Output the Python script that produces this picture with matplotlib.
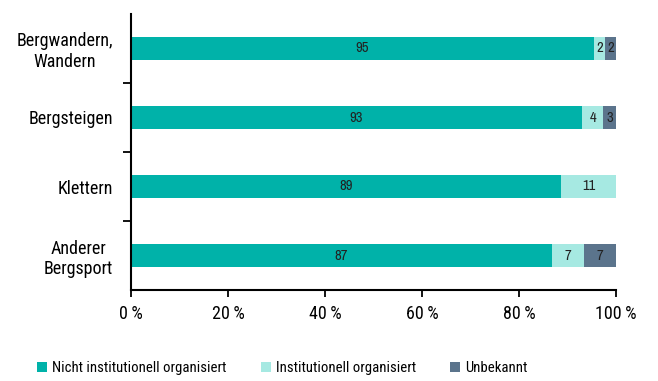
import numpy as np
import matplotlib.pyplot as plt
from matplotlib.ticker import FuncFormatter

plt.rcParams['font.family'] = ['Roboto Condensed', 'DejaVu Sans']

# Shares per activity (percent)
categories = ['Bergwandern,\nWandern', 'Bergsteigen', 'Klettern', 'Anderer\nBergsport']
nicht_inst = [95.4, 93.0, 88.7, 86.8]
inst = [2.4, 4.4, 11.3, 6.6]
unbekannt = [2.2, 2.6, 0.0, 6.6]

series = [
    ('Nicht institutionell organisiert', nicht_inst, '#00b2a9'),
    ('Institutionell organisiert', inst, '#a6e9e2'),
    ('Unbekannt', unbekannt, '#5b748c'),
]

fig = plt.figure(figsize=(6.58, 3.81), dpi=100)
ax = fig.add_axes([131 / 658, 1 - 290 / 381, 485 / 658, 276 / 381])

y = np.arange(len(categories))
left = np.zeros(len(categories))
for name, vals, color in series:
    vals = np.array(vals)
    ax.barh(y, vals, left=left, height=0.32, color=color, label=name)
    for yi, l, v in zip(y, left, vals):
        if v > 0:
            ax.text(l + v / 2, yi, f'{v:.0f}', ha='center', va='center',
                    fontsize=10.5, color='#222222',
                    family=['Archivo Narrow', 'DejaVu Sans'])
    left += vals

ax.set_xlim(0, 100)
ax.set_ylim(len(categories) - 0.5, -0.5)
ax.set_xticks(np.arange(0, 101, 20))
ax.xaxis.set_major_formatter(FuncFormatter(lambda v, p: f'{v:.0f}\u2009%'))

# category labels sit between the boundary ticks
ax.set_yticks(y)
ax.set_yticklabels(categories, multialignment='center')
ax.set_yticks(np.arange(0.5, len(categories) - 1, 1), minor=True)
ax.tick_params(axis='y', which='major', length=0, pad=13, labelsize=13)
ax.tick_params(axis='y', which='minor', length=6, width=1.3, direction='out')
ax.tick_params(axis='x', length=5, width=1.3, labelsize=13, pad=6)

for s in ['top', 'right']:
    ax.spines[s].set_visible(False)
for s in ['left', 'bottom']:
    ax.spines[s].set_linewidth(1.5)

fig.legend(loc='center left', bbox_to_anchor=(37 / 658, 1 - 368 / 381), ncol=3,
           frameon=False, borderpad=0, borderaxespad=0,
           fontsize=10.6, handlelength=0.7, handleheight=0.7, handletextpad=0.35,
           columnspacing=2.3)

fig.savefig('out.png', dpi=100)
